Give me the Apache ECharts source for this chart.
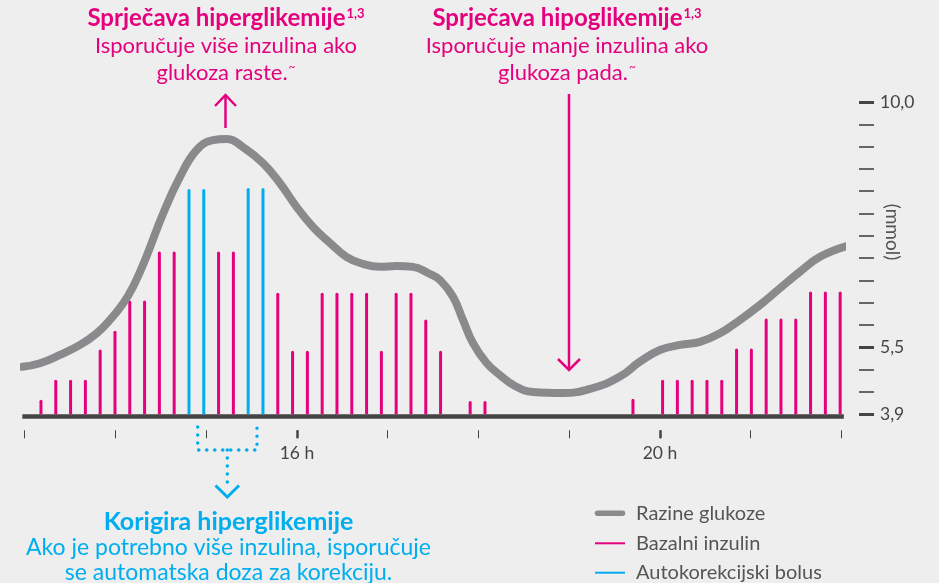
<!DOCTYPE html>
<html>
<head>
<meta charset="utf-8">
<script src="https://cdn.jsdelivr.net/npm/echarts@6/dist/echarts.min.js"></script>
<style>
html, body { margin: 0; padding: 0; background: #eeeeee; }
#chart { width: 939px; height: 583px; }
</style>
</head>
<body>
<div id="chart"></div>
<script>
// insulin slots (~10 min apart), heights in glucose-tick units above 3,9
const basal = [
  0.65, 1.55, 1.55, 1.55, 2.9, 3.75, 5.1, 5.1, 7.3, 7.3,
  null, null, 7.3, 7.3, null, null, 5.45, 2.85, 2.85, 5.45,
  5.45, 5.45, 5.45, 2.85, 5.45, 5.45, 4.25, 2.85, null, 0.6,
  0.6, null, null, null, null, null, null, null, null, null,
  0.7, null, 1.55, 1.55, 1.55, 1.55, 1.55, 2.95, 2.95, 4.3,
  4.3, 4.3, 5.5, 5.5, 5.5
];
const bolusSlots = [10, 11, 14, 15];
const bolusValues = [10.1, 10.1, 10.15, 10.15];

// glucose curve (slot, tick units)
const glucoseX = [-1.25, -0.07, 1.28, 2.64, 3.76, 4.66, 5.56, 6.24, 7.14, 8.24,
  9.39, 10.52, 11.62, 12.55, 13.65, 15.0, 16.15, 17.28, 18.38, 19.53,
  20.66, 21.76, 22.9, 24.03, 25.14, 26.28, 26.96, 27.84, 28.51, 29.19,
  30.11, 31.01, 32.03, 33.24, 35.27, 37.3, 39.12, 40.47, 41.82, 43.18,
  44.53, 45.88, 47.23, 48.58, 49.93, 51.28, 52.64, 54.44];
const glucoseY = [2.13, 2.29, 2.66, 3.11, 3.63, 4.23, 4.98, 5.74, 7.1, 8.98,
  10.64, 11.85, 12.29, 12.34, 11.98, 11.26, 10.36, 9.29, 8.4, 7.68,
  7.05, 6.74, 6.61, 6.65, 6.61, 6.29, 6.02, 5.27, 4.23, 3.19,
  2.3, 1.76, 1.27, 1.0, 0.95, 1.18, 1.69, 2.36, 2.88, 3.11,
  3.25, 3.63, 4.23, 4.9, 5.65, 6.39, 7.06, 7.54];

// axis labels
const hourLabels = [16, 20];
const glucoseTicks = { 0: '3,9', 3: '5,5', 14: '10,0' };

const PINK = '#e5007d';
const CYAN = '#00aeef';
const GRAY = '#8a8a8d';
const FONT = 'Lato, "Noto Sans", sans-serif';

const chart = echarts.init(document.getElementById('chart'));

function richStyles(color, bold, normal, lh) {
  return {
    b: { fontSize: bold, fontWeight: 'bold', lineHeight: lh, fill: color, fontFamily: FONT },
    s: { fontSize: 13, fontWeight: 'bold', lineHeight: lh, verticalAlign: 'top', padding: [3, 0, 0, 1], fill: color, fontFamily: FONT },
    n: { fontSize: normal, lineHeight: lh, fill: color, fontFamily: FONT },
    t: { fontSize: 12, lineHeight: lh, verticalAlign: 'top', padding: [2, 0, 0, 1], fill: color, fontFamily: FONT }
  };
}

const option = {
  backgroundColor: '#eeeeee',
  animation: false,
  grid: { left: 24.7, right: 97.5, top: 102, bottom: 168.7 },
  xAxis: [
    {
      type: 'value', min: -1.1, max: 54.09, position: 'bottom',
      offset: 2,
      axisLine: { show: true, onZero: false, lineStyle: { color: '#444', width: 4.7, cap: 'square' } },
      axisTick: { show: false }, axisLabel: { show: false }, splitLine: { show: false }
    },
    {
      type: 'value', min: 13, max: 22, interval: 1, position: 'bottom',
      offset: 16,
      axisLine: { show: false, onZero: false },
      axisTick: { show: true, length: 8, lineStyle: { color: '#444', width: 1 } },
      axisLabel: {
        show: true, customValues: hourLabels, margin: 14,
        formatter: v => v + ' h', color: '#444', fontSize: 17.5, fontFamily: FONT
      },
      splitLine: { show: false }
    },
    {
      type: 'value', min: 13, max: 22, position: 'bottom',
      offset: 16,
      axisLine: { show: false, onZero: false },
      axisTick: { show: true, customValues: hourLabels, length: 8, lineStyle: { color: '#444', width: 2.5 } },
      axisLabel: { show: false }, splitLine: { show: false }
    }
  ],
  yAxis: [
    {
      type: 'value', min: 0, max: 14, interval: 1, position: 'right', offset: 32.5,
      axisLine: { show: false, onZero: false },
      axisTick: { show: true, inside: true, length: 15, lineStyle: { color: '#666', width: 2 } },
      axisLabel: {
        show: true, customValues: [0, 3, 14], margin: 6,
        formatter: v => glucoseTicks[v] || '', color: '#444', fontSize: 17.5, fontFamily: FONT
      },
      splitLine: { show: false }
    },
    {
      type: 'value', min: 0, max: 14, position: 'right', offset: 32.5,
      axisLine: { show: false, onZero: false },
      axisTick: { show: true, inside: true, length: 15, customValues: [0, 3, 14], lineStyle: { color: '#444', width: 3 } },
      axisLabel: { show: false }, splitLine: { show: false }
    }
  ],
  series: [
    {
      name: 'Bazalni inzulin', type: 'bar', xAxisIndex: 0, yAxisIndex: 0,
      barWidth: 3, barGap: '-100%',
      itemStyle: { color: PINK, borderRadius: [1.5, 1.5, 0, 0] },
      data: basal.map((v, i) => [i, v]).filter(d => d[1] != null)
    },
    {
      name: 'Autokorekcijski bolus', type: 'bar', xAxisIndex: 0, yAxisIndex: 0,
      barWidth: 3, barGap: '-100%',
      itemStyle: { color: CYAN, borderRadius: [1.5, 1.5, 0, 0] },
      data: bolusSlots.map((s, i) => [s, bolusValues[i]])
    },
    {
      name: 'Razine glukoze', type: 'line', xAxisIndex: 0, yAxisIndex: 0,
      smooth: 0.45, symbol: 'none', clip: false, z: 5,
      lineStyle: { color: GRAY, width: 8, cap: 'round' },
      data: glucoseX.map((x, i) => [x, glucoseY[i]])
    }
  ],
  graphic: [
    {
      type: 'text', x: 226, y: 4.25,
      style: {
        text: '{b|Sprječava hiperglikemije}{s|1,3}\n{n|Isporučuje više inzulina ako}\n{n|glukoza raste.}{t|~}',
        textAlign: 'center', textVerticalAlign: 'top', fill: PINK, fontFamily: FONT,
        rich: richStyles(PINK, 24, 22, 27.5)
      }
    },
    {
      type: 'text', x: 567, y: 4.25,
      style: {
        text: '{b|Sprječava hipoglikemije}{s|1,3}\n{n|Isporučuje manje inzulina ako}\n{n|glukoza pada.}{t|~}',
        textAlign: 'center', textVerticalAlign: 'top', fill: PINK, fontFamily: FONT,
        rich: richStyles(PINK, 24, 22, 27.5)
      }
    },
    // up arrow
    { type: 'polyline', shape: { points: [[225.5, 128], [225.5, 95]] }, style: { stroke: PINK, lineWidth: 2.5, fill: null } },
    { type: 'polyline', shape: { points: [[215, 106], [225.5, 95], [236, 106]] }, style: { stroke: PINK, lineWidth: 2.5, fill: null } },
    // down arrow
    { type: 'polyline', shape: { points: [[569, 94], [569, 369]] }, style: { stroke: PINK, lineWidth: 2.5, fill: null } },
    { type: 'polyline', shape: { points: [[558, 359], [569, 370], [580, 359]] }, style: { stroke: PINK, lineWidth: 2.5, fill: null } },
    // dotted bracket
    {
      type: 'polyline', shape: { points: [[197.7, 427], [197.7, 450], [257, 450], [257, 427]] },
      style: { stroke: CYAN, lineWidth: 3.5, lineCap: 'round', lineDash: [0.1, 7.9], fill: null }
    },
    {
      type: 'polyline', shape: { points: [[227.3, 450], [227.3, 490]] },
      style: { stroke: CYAN, lineWidth: 3.5, lineCap: 'round', lineDash: [0.1, 7.9], fill: null }
    },
    { type: 'polyline', shape: { points: [[215.5, 485.5], [227.3, 497], [239, 485.5]] }, style: { stroke: CYAN, lineWidth: 3, fill: null } },
    {
      type: 'text', x: 228.5, y: 509,
      style: {
        text: '{b|Korigira hiperglikemije}\n{n|Ako je potrebno više inzulina, isporučuje}\n{n|se automatska doza za korekciju.}',
        textAlign: 'center', textVerticalAlign: 'top', fill: CYAN, fontFamily: FONT,
        rich: richStyles(CYAN, 25, 23, 25.5)
      }
    },
    // y axis unit
    {
      type: 'text', x: 892, y: 232, rotation: -Math.PI / 2,
      style: { text: '(mmol)', textAlign: 'center', textVerticalAlign: 'middle', fill: '#555', fontSize: 19, fontFamily: FONT }
    },
    // legend
    { type: 'polyline', shape: { points: [[597.5, 513.3], [622.5, 513.3]] }, style: { stroke: GRAY, lineWidth: 5.5, lineCap: 'round', fill: null } },
    { type: 'text', x: 636, y: 513.5, style: { text: 'Razine glukoze', textVerticalAlign: 'middle', fill: '#555', fontSize: 20, fontFamily: FONT } },
    { type: 'polyline', shape: { points: [[595, 543.3], [625, 543.3]] }, style: { stroke: PINK, lineWidth: 2, fill: null } },
    { type: 'text', x: 636, y: 543.5, style: { text: 'Bazalni inzulin', textVerticalAlign: 'middle', fill: '#555', fontSize: 20, fontFamily: FONT } },
    { type: 'polyline', shape: { points: [[595, 572.7], [625, 572.7]] }, style: { stroke: CYAN, lineWidth: 2, fill: null } },
    { type: 'text', x: 636, y: 573, style: { text: 'Autokorekcijski bolus', textVerticalAlign: 'middle', fill: '#555', fontSize: 20, fontFamily: FONT } }
  ]
};

chart.setOption(option);
</script>
</body>
</html>
